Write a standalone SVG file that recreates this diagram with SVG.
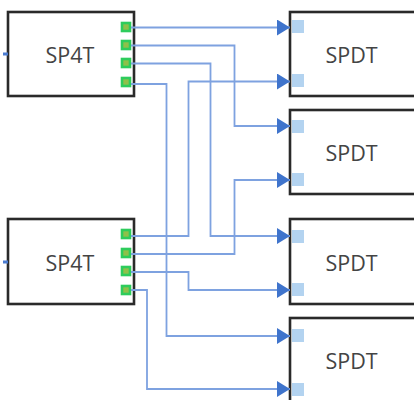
<svg xmlns="http://www.w3.org/2000/svg" width="414" height="400" viewBox="0 0 414 400">
<style>
.box{fill:#fff;stroke:#2a2a2a;stroke-width:2.6}
.out{fill:#8fc04a;stroke:#2ecc5c;stroke-width:2.6}
.in{fill:#b3d3f0}
.c{fill:none;stroke:#7ea2e0;stroke-width:1.8}
.stub{fill:none;stroke:#4a7bd0;stroke-width:3}
text{font-family:"Open Sans","Liberation Sans",sans-serif;font-size:21.5px;fill:#444;text-anchor:middle}
</style>
<defs>
<marker id="a" markerUnits="userSpaceOnUse" markerWidth="14" markerHeight="16" refX="13" refY="8" orient="auto"><path d="M0 0L13 8L0 16Z" fill="#3f74cc"/></marker>
</defs>
<rect width="414" height="400" fill="#fff"/>
<g id="n1"><rect class="box" x="8" y="12" width="126" height="84"/><text x="70" y="63">SP4T</text>
<rect class="out" x="122" y="23" width="8" height="8"/><rect class="out" x="122" y="41" width="8" height="8"/><rect class="out" x="122" y="59" width="8" height="8"/><rect class="out" x="122" y="78" width="8" height="8"/></g>
<g id="n2"><rect class="box" x="8" y="219" width="126" height="85"/><text x="70" y="271">SP4T</text>
<rect class="out" x="122" y="230" width="8" height="8"/><rect class="out" x="122" y="249" width="8" height="8"/><rect class="out" x="122" y="267" width="8" height="8"/><rect class="out" x="122" y="286" width="8" height="8"/></g>
<g id="n3"><rect class="box" x="290" y="12" width="130" height="84"/><text x="351.500" y="63">SPDT</text>
<rect class="in" x="292" y="20" width="12" height="13"/><rect class="in" x="292" y="74" width="12" height="13"/></g>
<g id="n4"><rect class="box" x="290" y="110" width="130" height="84"/><text x="351.500" y="161">SPDT</text>
<rect class="in" x="292" y="120" width="12" height="13"/><rect class="in" x="292" y="173" width="12" height="13"/></g>
<g id="n5"><rect class="box" x="290" y="219" width="130" height="85"/><text x="351.500" y="271">SPDT</text>
<rect class="in" x="292" y="230" width="12" height="13"/><rect class="in" x="292" y="283" width="12" height="13"/></g>
<g id="n6"><rect class="box" x="290" y="318" width="130" height="90"/><text x="351.500" y="369">SPDT</text>
<rect class="in" x="292" y="329" width="12" height="13"/><rect class="in" x="292" y="383" width="12" height="13"/></g>
<g id="connectors">
<path class="stub" d="M3 54H8M3 262H8"/>
<path class="c" marker-end="url(#a)" d="M131 27.500H290"/>
<path class="c" marker-end="url(#a)" d="M131 45.500H234.500V126H290"/>
<path class="c" marker-end="url(#a)" d="M131 63.500H210.500V236H290"/>
<path class="c" marker-end="url(#a)" d="M131 84H166.500V336H290"/>
<path class="c" marker-end="url(#a)" d="M131 236H188.500V81.500H290"/>
<path class="c" marker-end="url(#a)" d="M131 254H234.500V180H290"/>
<path class="c" marker-end="url(#a)" d="M131 272H188.500V290H290"/>
<path class="c" marker-end="url(#a)" d="M131 290H147V389H290"/>
</g>
</svg>
